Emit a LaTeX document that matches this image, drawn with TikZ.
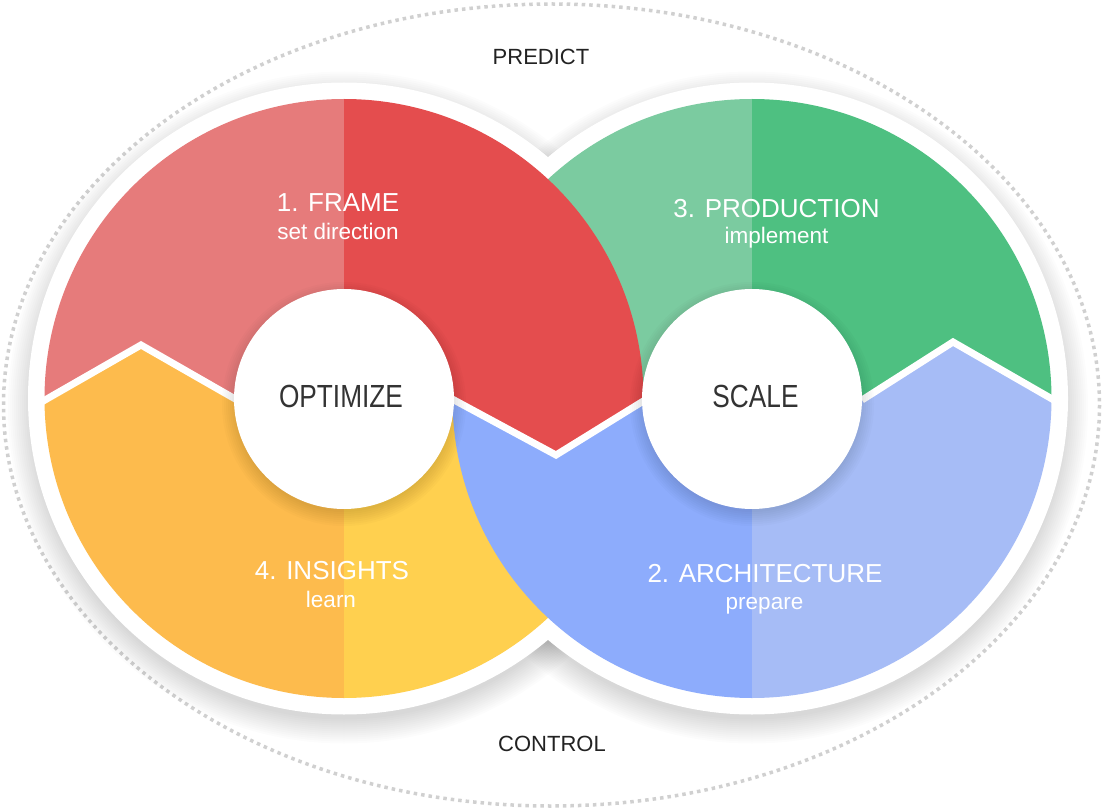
\documentclass[tikz,border=0pt]{standalone}
\usepackage{fontspec}
\setmainfont{Liberation Sans}
\definecolor{redL}{HTML}{E67B7B}
\definecolor{redD}{HTML}{E44D4E}
\definecolor{grnL}{HTML}{7BCBA0}
\definecolor{grnD}{HTML}{4EC081}
\definecolor{yelL}{HTML}{FDBB4D}
\definecolor{yelR}{HTML}{FFD04F}
\definecolor{bluL}{HTML}{8DACFC}
\definecolor{bluR}{HTML}{A6BCF6}
\definecolor{ink}{HTML}{222222}
\definecolor{ink2}{HTML}{333333}
\definecolor{dotgray}{HTML}{D0D0D0}
\begin{document}
\begin{tikzpicture}[x=1pt,y=-1pt,
  lbl/.style={text=white, font=\fontsize{26}{30}\selectfont, anchor=base, inner sep=0pt},
  sublbl/.style={text=white, font=\fontsize{22.5}{26}\selectfont, anchor=base, inner sep=0pt},
  hubtxt/.style={text=ink2, font=\fontsize{32}{36}\selectfont, anchor=base, inner sep=0pt},
  outtxt/.style={text=ink, font=\fontsize{22}{26}\selectfont, anchor=base, inner sep=0pt},
  hub/.style={circle, fill=white, minimum size=220pt, inner sep=0pt},
  zigline/.style={white, line width=7pt, line join=miter},
  bigshade/.style={black, opacity=0.013},
  hubshade/.style={black, opacity=0.016},
]
\useasboundingbox (0,0) rectangle (1103,810);
\fill[white] (0,0) rectangle (1103,810);

% outer dotted ellipse
\draw[dotgray, line width=3.5pt, dash pattern=on 3.5pt off 4pt] (551.5,405) ellipse[x radius=548, y radius=401];

% centres
\coordinate (cl) at (344,398.5);
\coordinate (cr) at (752,398.5);

% shadows of the big white discs
\foreach \r in {312,314,...,336} {
  \fill[bigshade] ([yshift=-9pt]cl) circle[radius=\r];
  \fill[bigshade] ([yshift=-9pt]cr) circle[radius=\r];
}
% white discs
\fill[white] (cl) circle[radius=316];
\fill[white] (cr) circle[radius=316];

% zigzag coordinates
\coordinate (z0) at (0,426);
\coordinate (z1) at (141,345);
\coordinate (z2) at (237,400);
\coordinate (z3) at (454,400);
\coordinate (z4) at (556,455);
\coordinate (z5) at (645,400);
\coordinate (z6) at (862,400);
\coordinate (z7) at (953,342);
\coordinate (z8) at (1052,399);
\coordinate (z9) at (1103,428);

% top halves
\begin{scope}
  \clip (z0) -- (z1) -- (z2) -- (z3) -- (z4) -- (z5) -- (z6) -- (z7) -- (z8) -- (z9) -- (1103,0) -- (0,0) -- cycle;
  \begin{scope}
    \clip (cr) circle[radius=299.5];
    \fill[grnL] (440,80) rectangle (752,720);
    \fill[grnD] (752,80) rectangle (1070,720);
  \end{scope}
  \begin{scope}
    \clip (cl) circle[radius=299.5];
    \fill[redL] (30,80) rectangle (344,720);
    \fill[redD] (344,80) rectangle (660,720);
  \end{scope}
\end{scope}

% bottom halves
\begin{scope}
  \clip (z0) -- (z1) -- (z2) -- (z3) -- (z4) -- (z5) -- (z6) -- (z7) -- (z8) -- (z9) -- (1103,810) -- (0,810) -- cycle;
  \begin{scope}
    \clip (cl) circle[radius=299.5];
    \fill[yelL] (30,80) rectangle (344,720);
    \fill[yelR] (344,80) rectangle (660,720);
  \end{scope}
  \begin{scope}
    \clip (cr) circle[radius=299.5];
    \fill[bluL] (440,80) rectangle (752,720);
    \fill[bluR] (752,80) rectangle (1070,720);
  \end{scope}
\end{scope}

% white zigzag dividers
\coordinate (zl) at (30,408.6);
\coordinate (zm1) at (444,394.6);
\coordinate (zm2) at (652,395.7);
\coordinate (zr) at (1066,407);
\draw[zigline] (zl) -- (z1) -- (z2);
\draw[zigline] (zm1) -- (z4) -- (zm2);
\draw[zigline] (z6) -- (z7) -- (zr);

% hub shadows
\coordinate (hl) at (344,399);
\coordinate (hr) at (752,399);
\foreach \r in {108,110,...,122} {
  \fill[hubshade] ([yshift=-5pt]hl) circle[radius=\r];
  \fill[hubshade] ([yshift=-5pt]hr) circle[radius=\r];
}
\node[hub] (optc) at (hl) {};
\node[hub] (sclc) at (hr) {};

% hub labels
\node[hubtxt] (opt) at (341,407) {\scalebox{0.82}[1]{OPTIMIZE}};
\node[hubtxt] (scl) at (755.5,407) {\scalebox{0.82}[1]{SCALE}};

% segment labels
\node[lbl] (frame) at (338,212) {1. FRAME};
\node[sublbl] (framesub) at (338,240) {set direction};
\node[lbl] (prod) at (776.5,218) {3. PRODUCTION};
\node[sublbl] (prodsub) at (776.5,243.5) {implement};
\node[lbl] (ins) at (332,579) {4. INSIGHTS};
\node[sublbl] (inssub) at (331,607) {learn};
\node[lbl] (arch) at (765,582) {2. ARCHITECTURE};
\node[sublbl] (archsub) at (764.5,609) {prepare};

% outer labels
\node[outtxt] (predict) at (541,64.3) {PREDICT};
\node[outtxt] (control) at (552,751.5) {CONTROL};
\end{tikzpicture}
\end{document}
